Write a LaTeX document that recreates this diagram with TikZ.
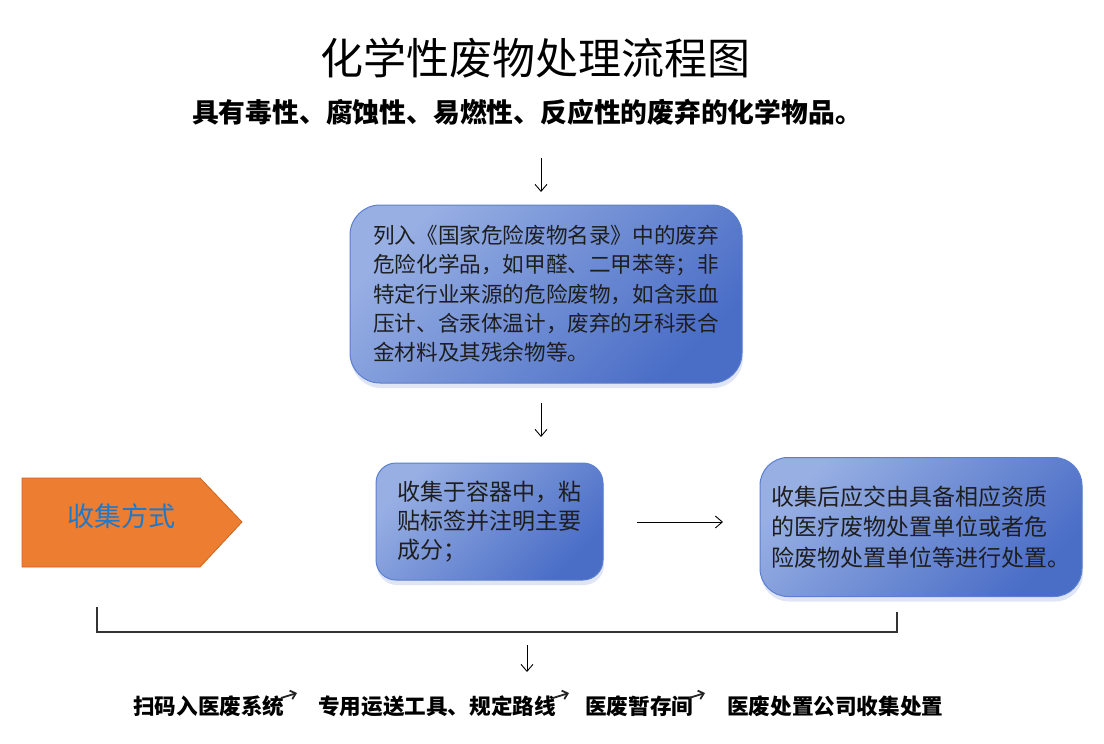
\documentclass[tikz,border=0pt]{standalone}
\usepackage{fontspec}
\setmainfont{Noto Sans CJK SC}
\usetikzlibrary{arrows.meta,shadows}
\definecolor{boxlight}{HTML}{97AFE3}
\definecolor{boxdark}{HTML}{4A6DC6}
\definecolor{boxedge}{HTML}{5B7FD0}
\definecolor{orangefill}{HTML}{ED7D31}
\definecolor{orangeedge}{HTML}{C9661F}
\definecolor{labelblue}{HTML}{1F78C8}
\definecolor{textdark}{HTML}{1E1E1E}
\tikzset{
  bluebox/.style={draw=boxedge, line width=1pt, rounded corners=#1,
    top color=boxlight, bottom color=boxdark, shading angle=45,
    drop shadow={shadow xshift=1pt, shadow yshift=-5pt, fill=boxdark!50, opacity=0.35},
    align=left, text=textdark, inner sep=0pt},
  flowarrow/.style={draw=black, line width=0.9pt, -{Straight Barb[length=7pt,width=12pt]}},
  smallarrow/.style={draw=black!85, line width=1.8pt, -{Straight Barb[length=5pt,width=9pt]}},
  bracketline/.style={draw=black!80, line width=1.8pt},
  orangeshape/.style={fill=orangefill, draw=orangeedge, line width=0.8pt},
  steptext/.style={anchor=west, inner sep=0pt, text=black, font=\fontsize{21.6}{24}\selectfont\bfseries},
}
\begin{document}
\begin{tikzpicture}[x=1pt,y=-1pt]
\useasboundingbox[fill=white] (0,0) rectangle (1104,744);

% titles
\node[inner sep=0pt, font=\fontsize{43}{46}\selectfont] (title) at (535,58) {化学性废物处理流程图};
\node[inner sep=0pt, font=\fontsize{26.8}{30}\selectfont\bfseries] (subtitle) at (527,112) {具有毒性、腐蚀性、易燃性、反应性的废弃的化学物品。};

% box 1
\node[bluebox=30pt, minimum width=392pt, minimum height=178pt, font=\fontsize{21.6}{29.3}\selectfont] (b1) at (546,294)
 {列入《国家危险废物名录》中的废弃\\危险化学品，如甲醛、二甲苯等；非\\特定行业来源的危险废物，如含汞血\\压计、含汞体温计，废弃的牙科汞合\\金材料及其残余物等。};

% box 2
\node[bluebox=20pt, minimum width=227pt, minimum height=117pt, font=\fontsize{23}{29}\selectfont] (b2) at (489.5,521.5)
 {收集于容器中，粘\\贴标签并注明主要\\成分；};

% box 3
\node[bluebox=28pt, minimum width=322pt, minimum height=139pt, font=\fontsize{23}{30.5}\selectfont] (b3) at (921,527)
 {收集后应交由具备相应资质\\的医疗废物处置单位或者危\\险废物处置单位等进行处置。};

% orange pentagon
\draw[orangeshape] (22,478) -- (200,478) -- (242,522) -- (200,567) -- (22,567) -- cycle;
\node[inner sep=0pt, text=labelblue, font=\fontsize{27}{30}\selectfont] (collect) at (121,516) {收集方式};

% arrows
\coordinate (a1s) at (541,158);
\coordinate (a1e) at (541,192);
\draw[flowarrow] (a1s) -- (a1e);
\coordinate (a2s) at (541,403);
\coordinate (a2e) at (541,437);
\draw[flowarrow] (a2s) -- (a2e);
\coordinate (a3s) at (637,522);
\coordinate (a3e) at (723,522);
\draw[flowarrow] (a3s) -- (a3e);

% bracket
\coordinate (brl) at (97,607);
\coordinate (brr) at (897,612);
\draw[bracketline] (brl) -- (97,632) -- (897,632) -- (brr);
\coordinate (a4s) at (527,645);
\coordinate (a4e) at (527,672);
\draw[flowarrow] (a4s) -- (a4e);

% bottom steps
\node[steptext] (s1) at (133,706) {扫码入医废系统};
\node[steptext] (s2) at (318,706) {专用运送工具、规定路线};
\node[steptext] (s3) at (585,706) {医废暂存间};
\node[steptext] (s4) at (727,706) {医废处置公司收集处置};
\coordinate (m1s) at (281,698); \coordinate (m1e) at (297,693);
\coordinate (m2s) at (553,698); \coordinate (m2e) at (569,693);
\coordinate (m3s) at (689,698); \coordinate (m3e) at (705,693);
\draw[smallarrow] (m1s) -- (m1e);
\draw[smallarrow] (m2s) -- (m2e);
\draw[smallarrow] (m3s) -- (m3e);
\end{tikzpicture}
\end{document}
